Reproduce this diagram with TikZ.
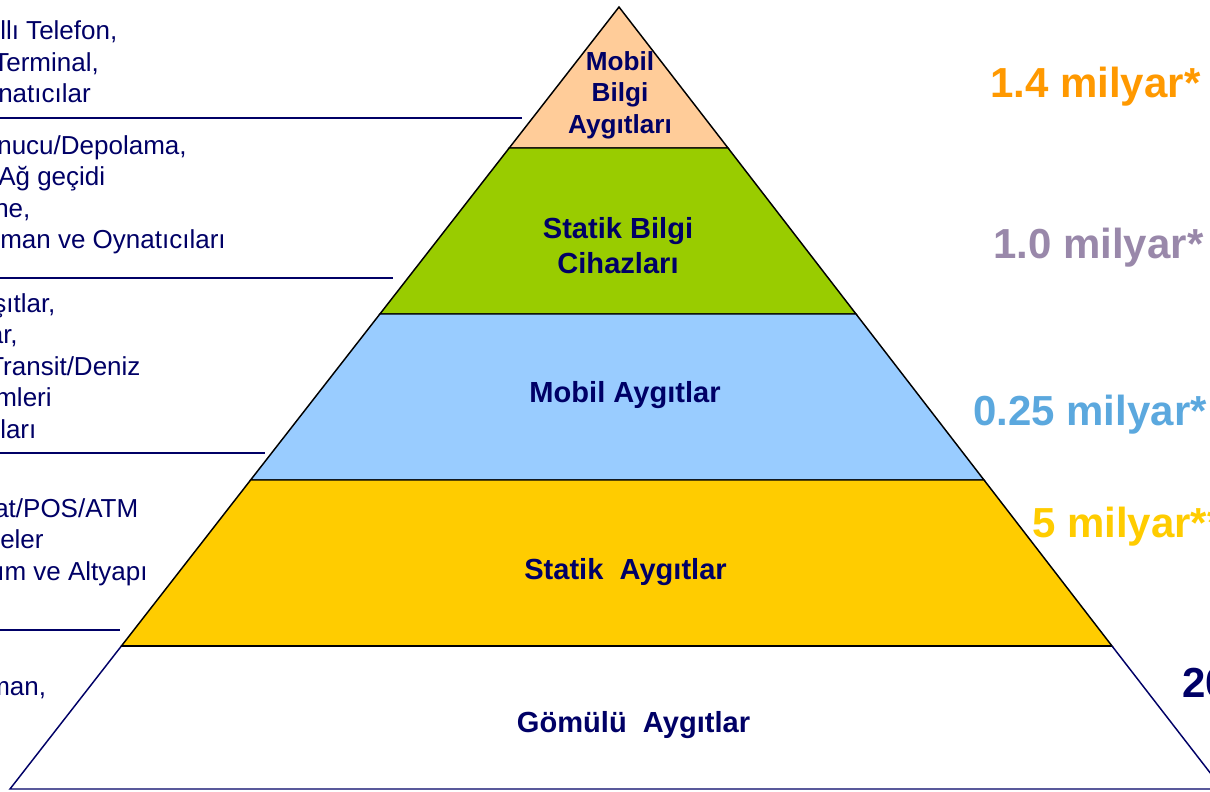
\documentclass[tikz,border=0pt]{standalone}
\usepackage{fontspec}
\setmainfont{Liberation Sans}
\usetikzlibrary{positioning}
\definecolor{navyblue}{RGB}{0,0,102}
\definecolor{peach}{RGB}{255,204,153}
\definecolor{leafgreen}{RGB}{153,204,0}
\definecolor{skyblue}{RGB}{153,204,255}
\definecolor{gold}{RGB}{255,204,0}
\definecolor{orangetxt}{RGB}{255,153,0}
\definecolor{mauvetxt}{RGB}{153,136,170}
\definecolor{bluetxt}{RGB}{91,168,222}
\tikzset{
  layer/.style={draw=black, line width=1.1pt},
  tier/.style={font=\fontsize{21.8}{26.3}\selectfont\bfseries, text=navyblue, align=center, inner sep=0pt},
  apex/.style={tier, font=\fontsize{19.6}{23.6}\selectfont\bfseries},
  examples/.style={font=\fontsize{19.5}{23.6}\selectfont, text=navyblue, align=left, anchor=west, inner sep=0pt},
  count/.style={font=\fontsize{31.5}{36}\selectfont\bfseries, anchor=base west, inner sep=0pt},
  rule/.style={draw=navyblue, line width=1.1pt},
}

\begin{document}
\begin{tikzpicture}[x=0.75pt, y=-0.75pt]
  \useasboundingbox (0,0) rectangle (1210,792);
  % pyramid layers, top to bottom
  \filldraw[layer, fill=peach] (619,7) -- (728,148) -- (509.2,148) -- cycle;
  \filldraw[layer, fill=leafgreen] (509.2,148) -- (728,148) -- (856,314) -- (379.9,314) -- cycle;
  \filldraw[layer, fill=skyblue] (379.9,314) -- (856,314) -- (984,480) -- (250.6,480) -- cycle;
  \filldraw[layer, fill=gold] (250.6,480) -- (984,480) -- (1112,646) -- (121.4,646) -- cycle;
  \draw[rule] (121.4,646) -- (10,789) -- (1240,789);
  \draw[rule] (1112,646) -- (1225,792);
  \draw[layer] (121.4,646) -- (1112,646);

  % tier names
  \node[apex] (mobinfo) at (620,95) {Mobil\\Bilgi\\Aygıtları};
  \node[tier] (statinfo) at (618,245.5) {Statik Bilgi\\Cihazları};
  \node[tier] (mobdev) at (625,395) {Mobil Aygıtlar};
  \node[tier] (statdev) at (625.5,572) {Statik\ \ Aygıtlar};
  \node[tier] (embdev) at (633.5,725) {Gömülü\ \ Aygıtlar};

  % example lists on the left
  \node[examples] (mobinfo-ex) at (0,62)
    {llı Telefon,\\\hspace*{-5.2pt}Terminal,\\\hspace*{-1.5pt}natıcılar};
  \node[examples] (statinfo-ex) at (0,195)
    {\hspace*{-2.2pt}nucu/Depolama,\\\hspace*{-1.5pt}Ağ geçidi\\\hspace*{-4.5pt}ne,\\man ve Oynatıcıları};
  \node[examples] (mobdev-ex) at (0,366)
    {\hspace*{-5.2pt}şıtlar,\\\hspace*{-8.6pt}ar,\\\hspace*{-9pt}Transit/Deniz\\\hspace*{-3.7pt}mleri\\ları};
  \node[examples] (statdev-ex) at (0,542)
    {\hspace*{-4.5pt}at/POS/ATM\\eler\\\hspace*{-2.2pt}ım ve Altyapı};
  \node[examples] (embdev-ex) at (0,690) {\hspace*{-9pt}man,};
  \draw[rule] (0,118) -- (522,118);
  \draw[rule] (0,278) -- (393,278);
  \draw[rule] (0,453) -- (265,453);
  \draw[rule] (0,630) -- (120,630);

  % unit counts on the right
  \node[count, text=orangetxt] (mobinfo-n) at (990,98) {1.4 milyar*};
  \node[count, text=mauvetxt] (statinfo-n) at (993,258) {1.0 milyar*};
  \node[count, text=bluetxt] (mobdev-n) at (973,425) {0.25 milyar*};
  \node[count, text=gold] (statdev-n) at (1032,537) {5 milyar**};
  \node[count, text=navyblue] (embdev-n) at (1182,697) {20};
\end{tikzpicture}
\end{document}
